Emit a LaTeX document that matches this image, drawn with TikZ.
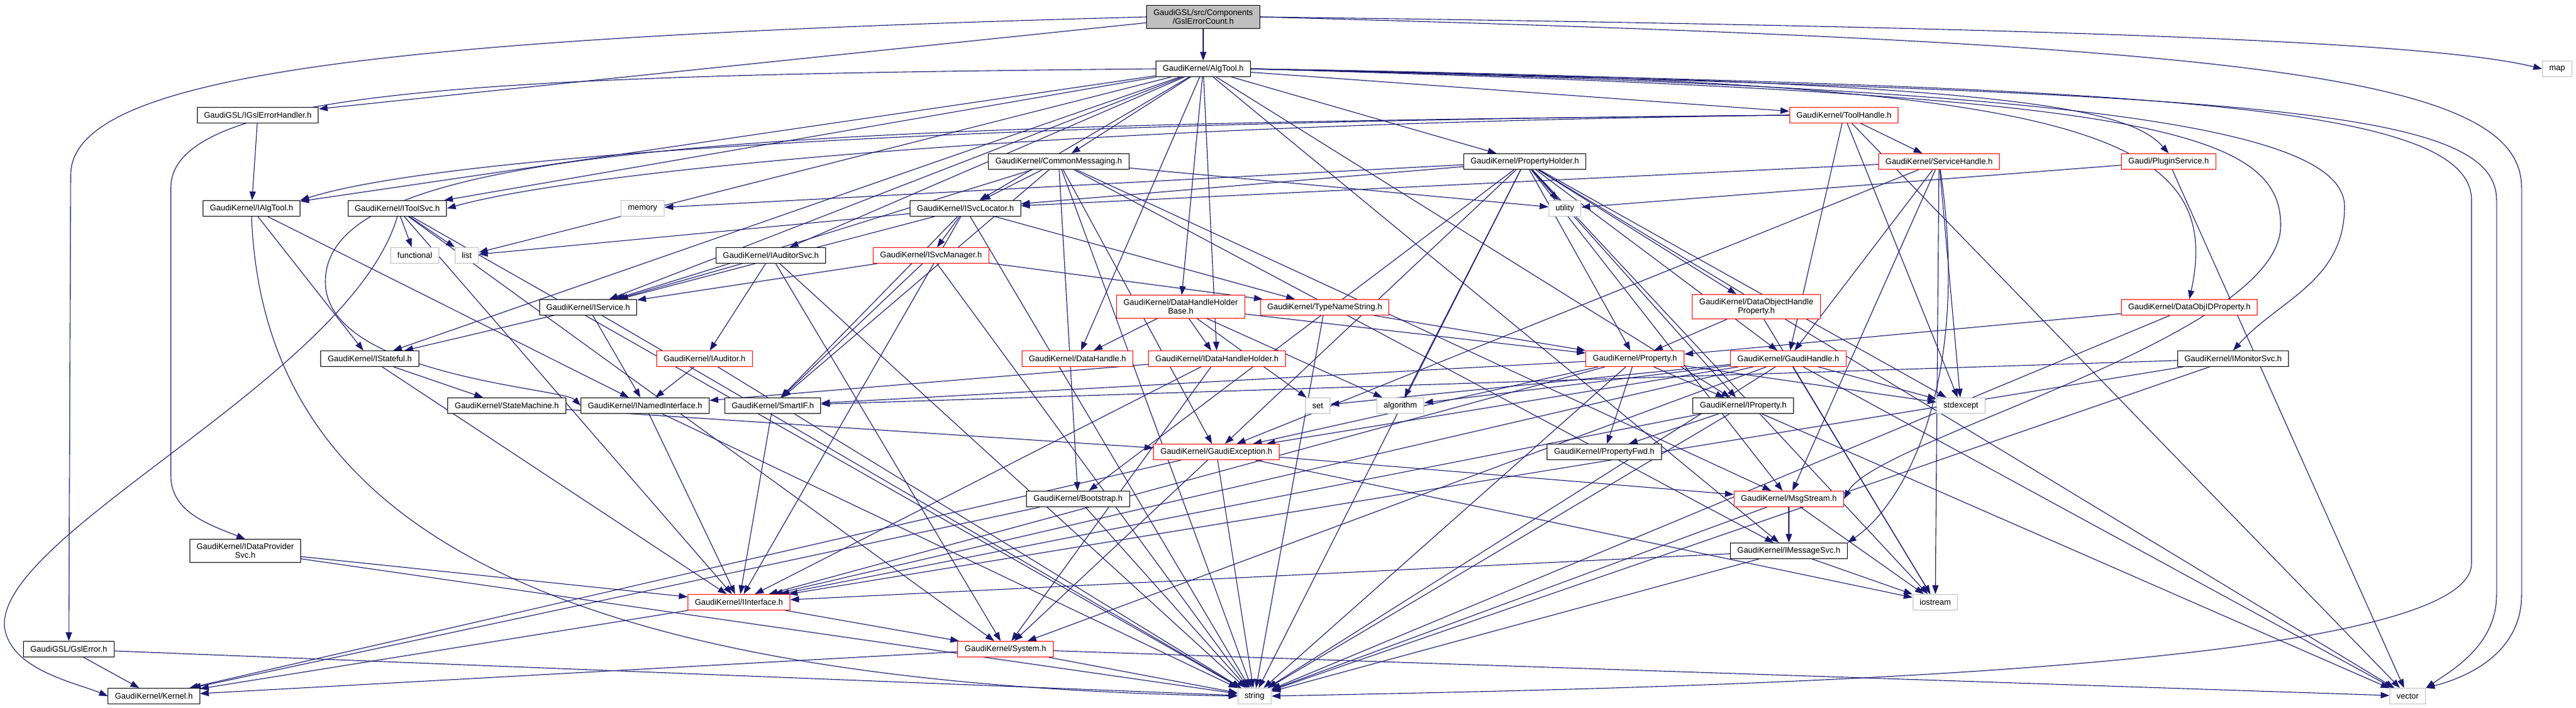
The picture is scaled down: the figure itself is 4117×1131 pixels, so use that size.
\documentclass[tikz,border=0pt]{standalone}
\usepackage{fontspec}
\setmainfont{Liberation Sans}
\usepackage{tikz}
\usetikzlibrary{arrows.meta}
\definecolor{edgeblue}{rgb}{0.098, 0.098, 0.439}
\definecolor{truncred}{rgb}{1, 0, 0}
\definecolor{sysgray}{rgb}{0.75, 0.75, 0.75}
\pgfdeclarelayer{edges}
\pgfsetlayers{edges,main}
\tikzset{
  hfile/.style={draw=black, fill=white, line width=1pt, inner xsep=11pt, inner ysep=6.5pt,
    minimum height=25pt, align=center, font=\fontsize{13}{14}\selectfont},
  hfiletrunc/.style={hfile, draw=truncred},
  sysfile/.style={hfile, draw=sysgray},
  rootfile/.style={hfile, fill=sysgray},
  incl/.style={draw=edgeblue, line width=1.1pt, -{Triangle[length=14pt,width=10pt]}}
}
\begin{document}
\begin{tikzpicture}[x=1pt,y=-1pt]
\useasboundingbox (0,0) rectangle (4117,1131);
% row 0 / 1
\node[rootfile] (root) at (1923,27) {GaudiGSL/src/Components\\/GslErrorCount.h};
\node[hfile] (algtool) at (1923,110) {GaudiKernel/AlgTool.h};
\node[sysfile] (map) at (4087,110) {map};
% row 2
\node[hfile] (igslerr) at (412,184) {GaudiGSL/IGslErrorHandler.h};
\node[hfiletrunc] (toolhandle) at (2947,184) {GaudiKernel/ToolHandle.h};
% row 3
\node[hfile] (cmsg) at (1692,258) {GaudiKernel/CommonMessaging.h};
\node[hfile] (propholder) at (2437,258) {GaudiKernel/PropertyHolder.h};
\node[hfiletrunc] (serviceh) at (3099,258) {GaudiKernel/ServiceHandle.h};
\node[hfiletrunc] (plugin) at (3466,258) {Gaudi/PluginService.h};
% row 4
\node[hfile] (ialgtool) at (402,333) {GaudiKernel/IAlgTool.h};
\node[hfile] (itoolsvc) at (635,333) {GaudiKernel/IToolSvc.h};
\node[sysfile] (memory) at (1027,333) {memory};
\node[hfile] (isvcloc) at (1543,333) {GaudiKernel/ISvcLocator.h};
\node[sysfile] (utility) at (2501,333) {utility};
% row 5
\node[sysfile] (functional) at (663,408) {functional};
\node[sysfile] (list) at (746,408) {list};
\node[hfile] (iauditorsvc) at (1232,408) {GaudiKernel/IAuditorSvc.h};
\node[hfiletrunc] (ismgr) at (1488,408) {GaudiKernel/ISvcManager.h};
% row 6
\node[hfile] (iservice) at (940,491) {GaudiKernel/IService.h};
\node[hfiletrunc] (dhhb) at (1887,490) {GaudiKernel/DataHandleHolder\\Base.h};
\node[hfiletrunc] (typename) at (2117,491) {GaudiKernel/TypeNameString.h};
\node[hfiletrunc] (dohp) at (2807,490) {GaudiKernel/DataObjectHandle\\Property.h};
\node[hfiletrunc] (dataobjid) at (3499,491) {GaudiKernel/DataObjIDProperty.h};
% row 7
\node[hfile] (istateful) at (591,573) {GaudiKernel/IStateful.h};
\node[hfiletrunc] (iauditor) at (1126,573) {GaudiKernel/IAuditor.h};
\node[hfiletrunc] (datahandle) at (1722,573) {GaudiKernel/DataHandle.h};
\node[hfiletrunc] (idhh) at (1945,573) {GaudiKernel/IDataHandleHolder.h};
\node[hfiletrunc] (property) at (2613,573) {GaudiKernel/Property.h};
\node[hfiletrunc] (gaudihandle) at (2858,573) {GaudiKernel/GaudiHandle.h};
\node[hfile] (imonsvc) at (3569,573) {GaudiKernel/IMonitorSvc.h};
% row 8
\node[hfile] (statemachine) at (810,648) {GaudiKernel/StateMachine.h};
\node[hfile] (inamed) at (1031,648) {GaudiKernel/INamedInterface.h};
\node[hfile] (smartif) at (1235,648) {GaudiKernel/SmartIF.h};
\node[sysfile] (set) at (2106,648) {set};
\node[sysfile] (algorithm) at (2238,648) {algorithm};
\node[hfile] (iprop) at (2786,648) {GaudiKernel/IProperty.h};
\node[sysfile] (stdexcept) at (3134,648) {stdexcept};
% row 9
\node[hfiletrunc] (gaudiexc) at (1944,722) {GaudiKernel/GaudiException.h};
\node[hfile] (propfwd) at (2564,722) {GaudiKernel/PropertyFwd.h};
% row 10 / 11
\node[hfile] (bootstrap) at (1723,797) {GaudiKernel/Bootstrap.h};
\node[hfiletrunc] (msgstream) at (2859,797) {GaudiKernel/MsgStream.h};
\node[hfile] (idataprov) at (392,880) {GaudiKernel/IDataProvider\\Svc.h};
\node[hfile] (imsgsvc) at (2859,880) {GaudiKernel/IMessageSvc.h};
% row 12
\node[hfiletrunc] (iinterface) at (1181,962) {GaudiKernel/IInterface.h};
\node[sysfile] (iostream) at (3093,962) {iostream};
% row 13 / 14
\node[hfile] (gslerror) at (110,1037) {GaudiGSL/GslError.h};
\node[hfiletrunc] (system) at (1607,1037) {GaudiKernel/System.h};
\node[hfile] (kernel) at (246,1112) {GaudiKernel/Kernel.h};
\node[sysfile] (string) at (2005,1112) {string};
\node[sysfile] (vector) at (3848,1112) {vector};

\begin{pgfonlayer}{edges}
% straight includes
\foreach \src/\dst in {root/algtool, root/igslerr,
    algtool/cmsg, algtool/dhhb, algtool/ialgtool, algtool/iauditorsvc, algtool/imsgsvc,
    algtool/iprop, algtool/iservice, algtool/istateful, algtool/isvcloc, algtool/itoolsvc,
    algtool/propholder, algtool/toolhandle, algtool/datahandle, algtool/idhh, algtool/list,
    igslerr/ialgtool, gslerror/kernel, gslerror/string,
    ialgtool/istateful, ialgtool/inamed,
    toolhandle/gaudihandle, toolhandle/serviceh, toolhandle/stdexcept, toolhandle/vector,
    serviceh/isvcloc, serviceh/gaudihandle, serviceh/msgstream, serviceh/stdexcept,
    serviceh/gaudiexc, serviceh/iostream,
    plugin/utility, plugin/vector}
  \draw[incl] (\src) -- (\dst);
\foreach \src/\dst in {cmsg/isvcloc, cmsg/msgstream, cmsg/imsgsvc, cmsg/utility, cmsg/string,
    cmsg/gaudiexc, cmsg/smartif, cmsg/bootstrap, cmsg/iservice,
    propholder/utility, propholder/memory, propholder/isvcloc, propholder/iprop,
    propholder/property, propholder/dohp, propholder/gaudihandle, propholder/gaudiexc,
    propholder/algorithm, propholder/stdexcept, propholder/vector, propholder/iostream,
    propholder/msgstream, propholder/bootstrap, propholder/string}
  \draw[incl] (\src) -- (\dst);
\foreach \src/\dst in {imsgsvc/iinterface, imsgsvc/iostream, imsgsvc/string,
    msgstream/imsgsvc, msgstream/string, msgstream/iostream,
    isvcloc/list, isvcloc/ismgr, isvcloc/typename, isvcloc/smartif, isvcloc/iinterface,
    isvcloc/string, isvcloc/iservice,
    ismgr/iservice, ismgr/typename, ismgr/smartif, ismgr/string,
    iauditorsvc/iservice, iauditorsvc/iauditor, iauditorsvc/string, iauditorsvc/system,
    iservice/istateful, iservice/inamed, iservice/string,
    dhhb/datahandle, dhhb/idhh, dhhb/property, dhhb/algorithm, dhhb/set,
    typename/property, typename/string, dohp/property, dohp/iostream,
    dataobjid/property, dataobjid/string, iauditor/inamed, iauditor/string,
    idhh/inamed, idhh/iinterface, idhh/system}
  \draw[incl] (\src) -- (\dst);
\foreach \src/\dst in {property/iprop, property/propfwd, property/smartif, property/gaudiexc,
    property/iinterface, property/string, property/stdexcept,
    gaudihandle/set, gaudihandle/algorithm, gaudihandle/iinterface, gaudihandle/gaudiexc,
    gaudihandle/string, gaudihandle/vector, gaudihandle/iostream, gaudihandle/system,
    gaudihandle/stdexcept,
    imonsvc/smartif, imonsvc/iinterface, imonsvc/string,
    istateful/statemachine, istateful/iinterface, statemachine/gaudiexc,
    inamed/iinterface, inamed/string, smartif/iinterface,
    iprop/iinterface, iprop/propfwd, iprop/string, iprop/vector,
    gaudiexc/kernel, gaudiexc/system, gaudiexc/string, gaudiexc/iostream, gaudiexc/msgstream,
    bootstrap/kernel, bootstrap/string, idataprov/iinterface, idataprov/string,
    iinterface/system, iinterface/kernel, system/kernel, system/string, system/vector,
    itoolsvc/functional, itoolsvc/list, itoolsvc/system, itoolsvc/string, itoolsvc/iinterface}
  \draw[incl] (\src) -- (\dst);
% routed includes
\draw[incl] (root.west) .. controls (600,60) and (113,120) .. (113,280) -- (gslerror.north);
\draw[incl] (root.east) .. controls (3400,45) and (3900,70) .. (map.west);
\draw[incl] (root.east) .. controls (3600,70) and (4030,120) .. (4030,300) -- (4030,950)
  .. controls (4030,1040) and (3950,1080) .. (vector.north east);
\draw[incl] (algtool.east) .. controls (3600,150) and (3990,170) .. (3990,320) -- (3990,950)
  .. controls (3990,1030) and (3920,1070) .. (vector.north east);
\draw[incl] (algtool.east) .. controls (3400,140) and (3950,160) .. (3950,320) -- (3950,900)
  .. controls (3950,1080) and (2600,1100) .. (string.east);
\draw[incl] (algtool.east) .. controls (3300,140) and (3747,200) .. (3747,330)
  .. controls (3747,450) and (3640,480) .. (imonsvc.north);
\draw[incl] (algtool.east) .. controls (3300,130) and (3560,200) .. (dataobjid.north);
\draw[incl] (algtool.east) .. controls (3400,150) and (3645,200) .. (3645,360)
  .. controls (3645,540) and (3000,700) .. (msgstream.east);
\draw[incl] (algtool.east) .. controls (3200,130) and (3400,170) .. (plugin.north);
\draw[incl] (algtool.west) .. controls (800,120) and (273,140) .. (273,300) -- (273,760)
  .. controls (273,820) and (340,840) .. (idataprov.north);
\draw[incl] (toolhandle.west) .. controls (1500,195) and (700,250) .. (ialgtool.north east);
\draw[incl] (toolhandle.west) .. controls (1600,200) and (900,280) .. (itoolsvc.east);
\draw[incl] (toolhandle.west) .. controls (1200,200) and (520,230) .. (520,450)
  .. controls (520,600) and (900,620) .. (inamed.west);
\draw[incl] (serviceh) .. controls (3150,600) and (3050,800) .. (imsgsvc.north east);
\draw[incl] (itoolsvc.south) .. controls (560,600) and (0,850) .. (7,1000)
  .. controls (15,1070) and (120,1090) .. (kernel.west);
\draw[incl] (ialgtool.south) .. controls (420,800) and (800,1090) .. (string.west);
\end{pgfonlayer}
\end{tikzpicture}
\end{document}
